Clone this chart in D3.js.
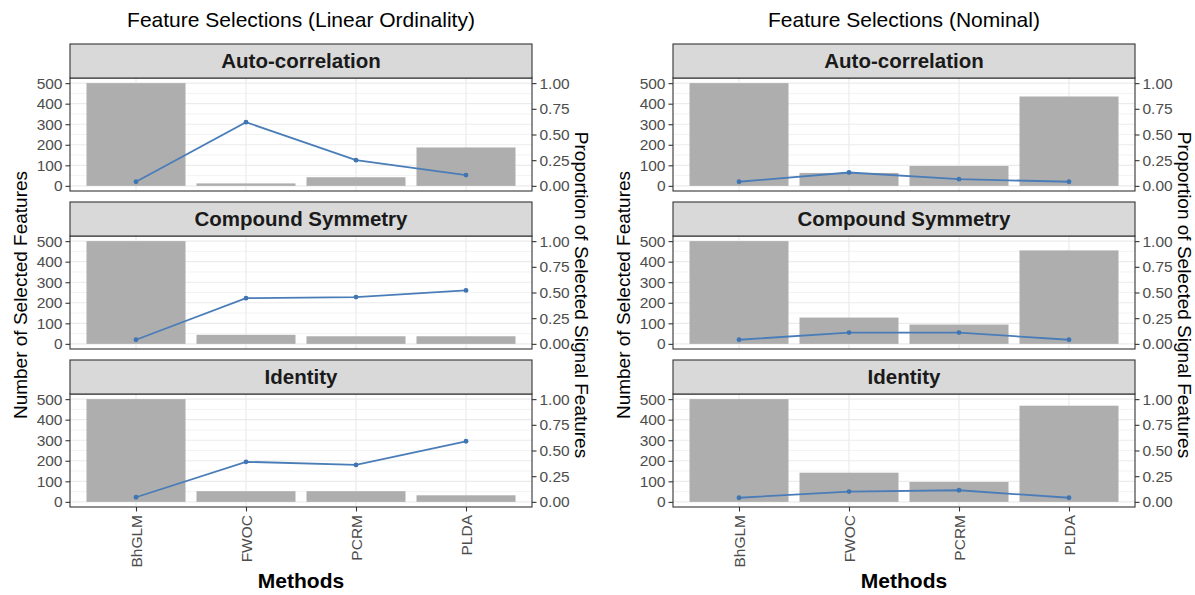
<!DOCTYPE html>
<html>
<head>
<meta charset="utf-8">
<script src="https://cdn.jsdelivr.net/npm/d3@7"></script>
<style>
  html, body { margin: 0; padding: 0; background: #fff; }
  svg { display: block; font-family: "Liberation Sans", Arial, sans-serif; }
</style>
</head>
<body>
<svg id="chart" width="1195" height="595"></svg>
<script>
// Methods on the x axis and the covariance structures used as facets
const methods = ["BhGLM", "FWOC", "PCRM", "PLDA"];
const structures = ["Auto-correlation", "Compound Symmetry", "Identity"];

// Linear ordinality: number of selected features (bars) and proportion of signal features (line)
const linearAutoCount = [500, 12, 42, 187];
const linearAutoProp  = [0.04, 0.62, 0.25, 0.105];
const linearCSCount   = [500, 44, 37, 37];
const linearCSProp    = [0.04, 0.445, 0.455, 0.52];
const linearIdCount   = [500, 52, 52, 32];
const linearIdProp    = [0.045, 0.39, 0.36, 0.59];

// Nominal outcome
const nominalAutoCount = [500, 63, 97, 435];
const nominalAutoProp  = [0.04, 0.13, 0.065, 0.04];
const nominalCSCount   = [500, 128, 94, 455];
const nominalCSProp    = [0.04, 0.11, 0.11, 0.04];
const nominalIdCount   = [500, 142, 97, 468];
const nominalIdProp    = [0.04, 0.10, 0.113, 0.04];

const countTicks = [0, 100, 200, 300, 400, 500];
const countMinor = [50, 150, 250, 350, 450];
const propTicks  = [0, 0.25, 0.5, 0.75, 1];

const charts = [
  {
    title: "Feature Selections (Linear Ordinality)",
    left: 70,
    counts: [linearAutoCount, linearCSCount, linearIdCount],
    props:  [linearAutoProp, linearCSProp, linearIdProp]
  },
  {
    title: "Feature Selections (Nominal)",
    left: 673,
    counts: [nominalAutoCount, nominalCSCount, nominalIdCount],
    props:  [nominalAutoProp, nominalCSProp, nominalIdProp]
  }
];

const svg = d3.select("#chart");
const panelW = 462, stripH = 34, panelH = 113, facetStep = 158, firstTop = 44;
const border = "#333333", gridCol = "#EBEBEB", axisText = "#4D4D4D";
const fontFam = "Liberation Sans, Arial, sans-serif";

charts.forEach(ch => {
  const g = svg.append("g");
  const x = d3.scalePoint().domain(methods).range([ch.left, ch.left + panelW]).padding(0.6);
  const barW = x.step() * 0.9;

  structures.forEach((s, i) => {
    const stripTop = firstTop + i * facetStep;
    const pTop = stripTop + stripH, pBot = pTop + panelH;
    const y = d3.scaleLinear().domain([-25, 525]).range([pBot, pTop]);
    const y2 = d3.scaleLinear().domain([-0.05, 1.05]).range([pBot, pTop]);

    // panel background
    g.append("rect").attr("x", ch.left).attr("y", pTop).attr("width", panelW).attr("height", panelH)
      .attr("fill", "#fff");

    // grid: minor, major horizontal, major vertical
    g.append("g").selectAll("line").data(countMinor).join("line")
      .attr("x1", ch.left).attr("x2", ch.left + panelW)
      .attr("y1", d => y(d)).attr("y2", d => y(d))
      .attr("stroke", gridCol).attr("stroke-width", 0.6);
    g.append("g").selectAll("line").data(countTicks).join("line")
      .attr("x1", ch.left).attr("x2", ch.left + panelW)
      .attr("y1", d => y(d)).attr("y2", d => y(d))
      .attr("stroke", gridCol).attr("stroke-width", 1.2);
    g.append("g").selectAll("line").data(methods).join("line")
      .attr("x1", d => x(d)).attr("x2", d => x(d))
      .attr("y1", pTop).attr("y2", pBot)
      .attr("stroke", gridCol).attr("stroke-width", 1.2);

    // bars: selected features
    const counts = ch.counts[i];
    g.append("g").selectAll("rect").data(methods).join("rect")
      .attr("x", d => x(d) - barW / 2).attr("width", barW)
      .attr("y", (d, j) => y(counts[j])).attr("height", (d, j) => y(0) - y(counts[j]))
      .attr("fill", "#AEAEAE");

    // line: proportion of selected signal features
    const props = ch.props[i];
    const pts = methods.map((m, j) => [x(m), y2(props[j])]);
    g.append("path").attr("d", d3.line()(pts))
      .attr("fill", "none").attr("stroke", "#4A7DB8").attr("stroke-width", 1.8);
    g.append("g").selectAll("circle").data(pts).join("circle")
      .attr("cx", d => d[0]).attr("cy", d => d[1]).attr("r", 2.4)
      .attr("fill", "#3F75B3");

    // panel border
    g.append("rect").attr("x", ch.left).attr("y", pTop).attr("width", panelW).attr("height", panelH)
      .attr("fill", "none").attr("stroke", border).attr("stroke-width", 1.1);

    // strip
    g.append("rect").attr("x", ch.left).attr("y", stripTop).attr("width", panelW).attr("height", stripH)
      .attr("fill", "#D9D9D9").attr("stroke", border).attr("stroke-width", 1.1);
    g.append("text").attr("x", ch.left + panelW / 2).attr("y", stripTop + stripH / 2)
      .attr("dy", "0.36em").attr("text-anchor", "middle")
      .attr("font-size", 20.5).attr("font-weight", "bold").attr("fill", "#1A1A1A")
      .text(s);

    // left axis: counts
    const la = g.append("g").attr("transform", `translate(${ch.left},0)`)
      .call(d3.axisLeft(y).tickValues(countTicks).tickSize(4.5).tickPadding(3).tickFormat(d3.format("d")));
    // right axis: proportions
    const ra = g.append("g").attr("transform", `translate(${ch.left + panelW},0)`)
      .call(d3.axisRight(y2).tickValues(propTicks).tickSize(4.5).tickPadding(3).tickFormat(d3.format(".2f")));
    [la, ra].forEach(a => {
      a.select(".domain").remove();
      a.selectAll(".tick line").attr("stroke", border).attr("stroke-width", 1.1);
      a.selectAll(".tick text").attr("fill", axisText).attr("font-size", 15.5)
        .attr("font-family", fontFam);
    });

    // bottom axis on the last facet
    if (i === structures.length - 1) {
      const ba = g.append("g").attr("transform", `translate(0,${pBot})`)
        .call(d3.axisBottom(x).tickSize(4.5).tickPadding(3));
      ba.select(".domain").remove();
      ba.selectAll(".tick line").attr("stroke", border).attr("stroke-width", 1.1);
      ba.selectAll(".tick text")
        .attr("fill", axisText).attr("font-size", 15.5)
        .attr("font-family", fontFam)
        .attr("transform", "rotate(-90)")
        .attr("text-anchor", "end")
        .attr("x", -8).attr("y", 0).attr("dy", "0.35em");
    }
  });

  const cx = ch.left + panelW / 2;
  // title
  g.append("text").attr("x", cx).attr("y", 27).attr("text-anchor", "middle")
    .attr("font-size", 21).attr("fill", "#000").text(ch.title);
  // x axis title
  g.append("text").attr("x", cx).attr("y", 588).attr("text-anchor", "middle")
    .attr("font-size", 21).attr("font-weight", "bold").attr("fill", "#000").text("Methods");
  // left y axis title
  g.append("text").attr("transform", `translate(${ch.left - 43},295) rotate(-90)`)
    .attr("text-anchor", "middle").attr("font-size", 19).attr("fill", "#000")
    .text("Number of Selected Features");
  // right y axis title
  g.append("text").attr("transform", `translate(${ch.left + panelW + 43},295) rotate(90)`)
    .attr("text-anchor", "middle").attr("font-size", 19).attr("fill", "#000")
    .text("Proportion of Selected Signal Features");
});
</script>
</body>
</html>
